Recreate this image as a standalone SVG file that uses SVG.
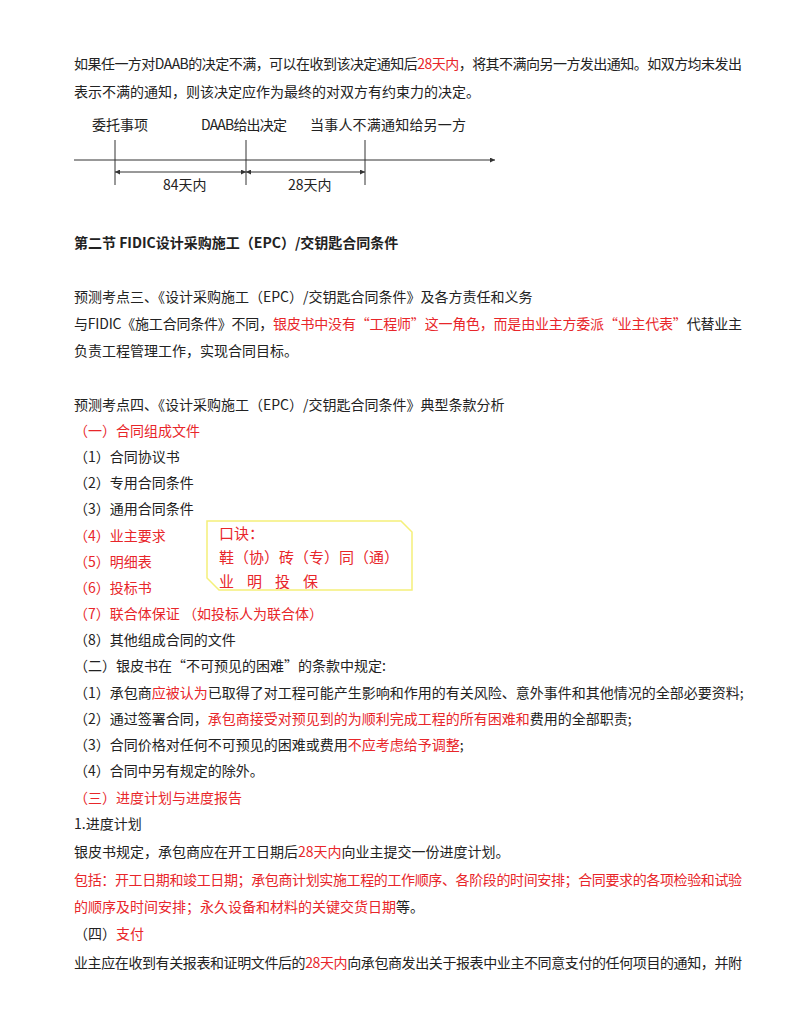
<svg xmlns="http://www.w3.org/2000/svg" width="800" height="1035" viewBox="0 0 800 1035">
<style>
text{font-family:"Noto Sans CJK SC","Noto Sans",sans-serif;font-size:14px;fill:#222}
.r{fill:#e8262a}
.b{font-weight:bold}
.ln{stroke:#333;stroke-width:1;fill:none}
</style>
<defs>
<marker id="a" viewBox="0 0 6 6" refX="6" refY="3" markerWidth="5" markerHeight="5" orient="auto-start-reverse"><path d="M0,0L6,3L0,6z" fill="#333"/></marker>
</defs>
<rect width="800" height="1035" fill="#fff"/>
<text x="74" y="69" textLength="668">如果任一方对DAAB的决定不满，可以在收到该决定通知后<tspan class="r">28天内</tspan>，将其不满向另一方发出通知。如双方均未发出</text>
<text x="74" y="97">表示不满的通知，则该决定应作为最终的对双方有约束力的决定。</text>
<g id="timeline">
<text x="92" y="130" textLength="56">委托事项</text>
<text x="201" y="130" textLength="86">DAAB给出决定</text>
<text x="310" y="130" textLength="156">当事人不满通知给另一方</text>
</g>
<g id="connectors">
<line class="ln" x1="74" y1="160" x2="495" y2="160" marker-end="url(#a)"/>
<line class="ln" x1="115" y1="140" x2="115" y2="185"/>
<line class="ln" x1="246" y1="140" x2="246" y2="185"/>
<line class="ln" x1="365" y1="140" x2="365" y2="185"/>
<line class="ln" x1="115" y1="172" x2="246" y2="172" marker-start="url(#a)" marker-end="url(#a)"/>
<line class="ln" x1="246" y1="172" x2="365" y2="172" marker-start="url(#a)" marker-end="url(#a)"/>
</g>
<text x="163" y="190">84天内</text>
<text x="288" y="190">28天内</text>
<text x="74" y="248" class="b">第二节 FIDIC设计采购施工（EPC）/交钥匙合同条件</text>
<text x="74" y="302">预测考点三、《设计采购施工（EPC）/交钥匙合同条件》及各方责任和义务</text>
<text x="74" y="329" textLength="668">与FIDIC《施工合同条件》不同，<tspan class="r">银皮书中没有“工程师”这一角色，而是由业主方委派“业主代表”</tspan>代替业主</text>
<text x="74" y="356">负责工程管理工作，实现合同目标。</text>
<text x="74" y="410">预测考点四、《设计采购施工（EPC）/交钥匙合同条件》典型条款分析</text>
<text x="74" y="436" class="r">（一）合同组成文件</text>
<text x="74" y="462">（1）合同协议书</text>
<text x="74" y="488">（2）专用合同条件</text>
<text x="74" y="514">（3）通用合同条件</text>
<text x="74" y="541" class="r">（4）业主要求</text>
<text x="74" y="567" class="r">（5）明细表</text>
<text x="74" y="593" class="r">（6）投标书</text>
<text x="74" y="619" class="r">（7）联合体保证 （如投标人为联合体）</text>
<text x="74" y="645">（8）其他组成合同的文件</text>
<g id="callout">
<path d="M207,521H401L412,532V590H219L207,578Z" fill="#fff" stroke="#f5f07a" stroke-width="1.5"/>
<text x="219" y="539" class="r" style="font-size:15px">口诀：</text>
<text x="219" y="563" class="r" style="font-size:15px">鞋（协）砖（专）同（通）</text>
<text x="219" y="587" class="r" style="font-size:15px" letter-spacing="13">业明投保</text>
</g>
<text x="74" y="671">（二）银皮书在“不可预见的困难”的条款中规定:</text>
<text x="74" y="698">（1）承包商<tspan class="r">应被认为</tspan>已取得了对工程可能产生影响和作用的有关风险、意外事件和其他情况的全部必要资料;</text>
<text x="74" y="724">（2）通过签署合同，<tspan class="r">承包商接受对预见到的为顺利完成工程的所有困难和</tspan>费用的全部职责;</text>
<text x="74" y="750">（3）合同价格对任何不可预见的困难或费用<tspan class="r">不应考虑给予调整</tspan>;</text>
<text x="74" y="776">（4）合同中另有规定的除外。</text>
<text x="74" y="803" class="r">（三）进度计划与进度报告</text>
<text x="74" y="829">1.进度计划</text>
<text x="74" y="857">银皮书规定，承包商应在开工日期后<tspan class="r">28天内</tspan>向业主提交一份进度计划。</text>
<text x="74" y="885" class="r" textLength="668">包括：开工日期和竣工日期；承包商计划实施工程的工作顺序、各阶段的时间安排；合同要求的各项检验和试验</text>
<text x="74" y="912"><tspan class="r">的顺序及时间安排；永久设备和材料的关键交货日期</tspan>等。</text>
<text x="74" y="939"><tspan>（四）</tspan><tspan class="r">支付</tspan></text>
<text x="74" y="968" textLength="668">业主应在收到有关报表和证明文件后的<tspan class="r">28天内</tspan>向承包商发出关于报表中业主不同意支付的任何项目的通知，并附</text>
</svg>
